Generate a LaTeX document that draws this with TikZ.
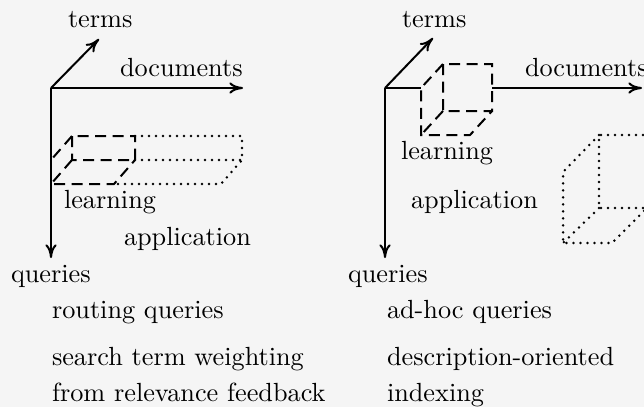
\documentclass[tikz,border=0pt]{standalone}
\usetikzlibrary{arrows.meta}
\begin{document}
\begin{tikzpicture}[x=0.4pt, y=-0.4pt, line width=0.8pt,
    >={To[length=5.5pt,width=4.6pt]},
    every node/.style={inner sep=0pt, anchor=base west, font=\fontsize{10.5}{14.4}\selectfont},
    learn/.style={dash pattern=on 4.4pt off 2.6pt},
    appl/.style={dash pattern=on 0pt off 2.8pt, line cap=round, line width=1.1pt}]
    \fill[black!4] (0,0) rectangle (644,407);
    \clip (0,0) rectangle (644,407);
    \coordinate (O1) at (51,88);
    \coordinate (T1) at (99,39);
    \coordinate (D1) at (243,88);
    \coordinate (Q1) at (51,258);
    \draw[->] (O1) -- (T1);
    \draw[->] (O1) -- (D1);
    \draw[->] (O1) -- (Q1);
    \draw[learn] 
        (72,136) rectangle (135,160)
        (72,136) -- (51,160)
        (72,160) -- (51,184) -- (114,184) -- (135,160);
    \draw[appl]
        (135,136) -- (242,136) -- (242,160) -- (221,184) -- (114,184)
        (135,160) -- (242,160);
    \node (terms1) at (67,27) {terms};
    \node (docs1) at (119,76) {documents};
    \node (learn1) at (63,208) {learning};
    \node (appl1) at (123,245) {application};
    \node (quer1) at (10,282) {queries};
    \node (rout) at (51,318) {routing queries};
    \node (stw1) at (51,365) {search term weighting};
    \node (stw2) at (51,401) {from relevance feedback};
    \coordinate (O2) at (385,88);
    \coordinate (T2) at (433,38);
    \coordinate (D2) at (642,88);
    \coordinate (Q2) at (385,258);
    \coordinate (c2a) at (421,88);
    \coordinate (c2b) at (492,88);
    \draw[->] (O2) -- (T2);
    \draw (O2) -- (c2a);
    \draw[->] (c2b) -- (D2);
    \draw[->] (O2) -- (Q2);
    \draw[learn]
        (443,64) rectangle (492,111)
        (443,64) -- (421,88) -- (421,135) -- (470,135) -- (492,111)
        (443,111) -- (421,135);
    \draw[appl]
        (650,135) -- (599,135) -- (599,208) -- (650,208)
        (599,135) -- (563,172) -- (563,243) -- (612,243) -- (648,207)
        (599,208) -- (563,243);
    \node (terms2) at (401,27) {terms};
    \node (docs2) at (524,76) {documents};
    \node (learn2) at (400,159) {learning};
    \node (appl2) at (410,208) {application};
    \node (quer2) at (347,282) {queries};
    \node (adhoc) at (386,318) {ad-hoc queries};
    \node (doi1) at (386,365) {description-oriented};
    \node (doi2) at (386,401) {indexing};
\end{tikzpicture}
\end{document}
